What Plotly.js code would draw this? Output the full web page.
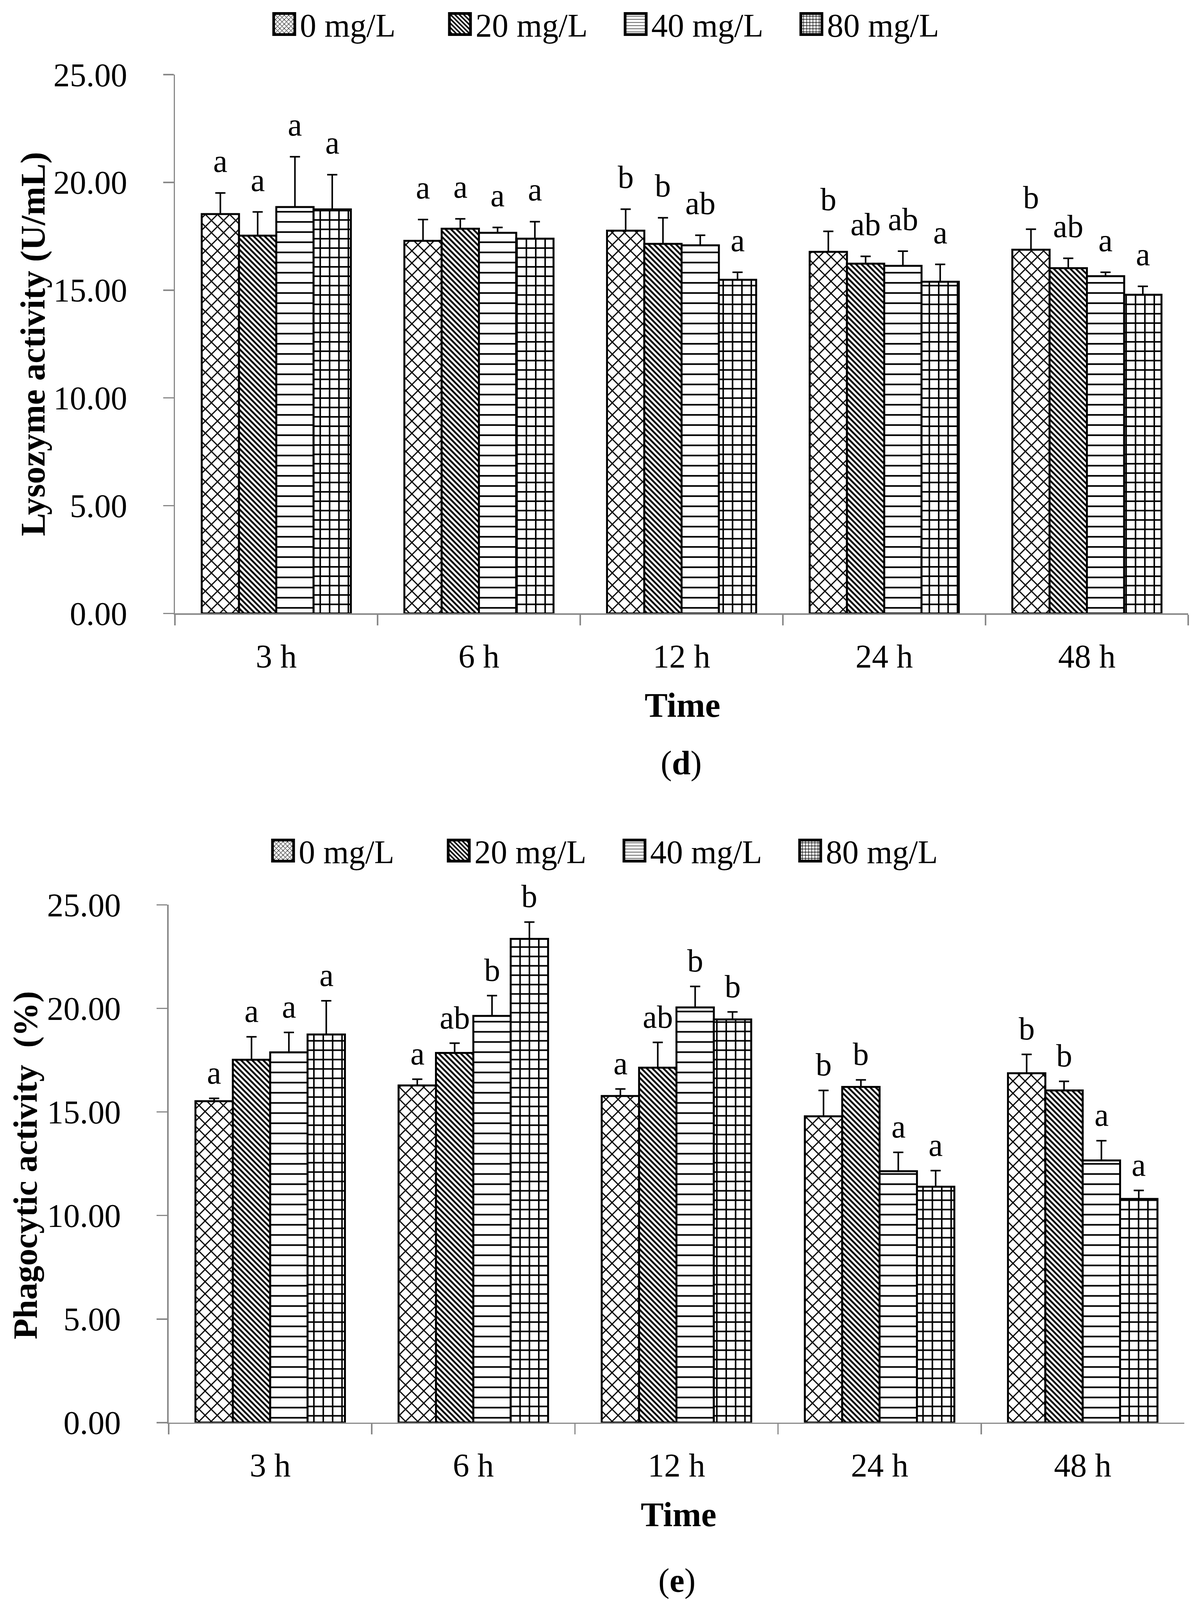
<!DOCTYPE html>
<html>
<head>
<meta charset="utf-8">
<script src="https://cdn.plot.ly/plotly-3.0.1.min.js"></script>
<style>
  html, body { margin: 0; padding: 0; background: #fff; overflow: hidden; }
  #chart { width: 3063px; }
</style>
</head>
<body>
<div id="chart"></div>
<script>
// categories and series
const times = ["3 h", "6 h", "12 h", "24 h", "48 h"];
const doses = ["0 mg/L", "20 mg/L", "40 mg/L", "80 mg/L"];

// (d) lysozyme activity, U/mL
const lys0 = [18.53, 17.29, 17.76, 16.78, 16.88];
const lys20 = [17.53, 17.85, 17.15, 16.23, 16.02];
const lys40 = [18.86, 17.66, 17.08, 16.13, 15.65];
const lys80 = [18.75, 17.39, 15.48, 15.39, 14.79];
const lysSd0 = [0.98, 0.99, 1.00, 0.95, 0.95];
const lysSd20 = [1.10, 0.46, 1.21, 0.34, 0.46];
const lysSd40 = [2.33, 0.25, 0.47, 0.68, 0.18];
const lysSd80 = [1.61, 0.79, 0.35, 0.81, 0.39];
const lysLet0 = ["a", "a", "b", "b", "b"];
const lysLet20 = ["a", "a", "b", "ab", "ab"];
const lysLet40 = ["a", "a", "ab", "ab", "a"];
const lysLet80 = ["a", "a", "a", "a", "a"];

// (e) phagocytic activity, %
const pha0 = [15.52, 16.28, 15.77, 14.79, 16.87];
const pha20 = [17.52, 17.85, 17.14, 16.21, 16.04];
const pha40 = [17.88, 19.64, 20.05, 12.14, 12.66];
const pha80 = [18.74, 23.36, 19.47, 11.39, 10.80];
const phaSd0 = [0.14, 0.30, 0.34, 1.25, 0.91];
const phaSd20 = [1.11, 0.47, 1.22, 0.34, 0.44];
const phaSd40 = [0.96, 0.98, 1.01, 0.91, 0.95];
const phaSd80 = [1.63, 0.81, 0.36, 0.78, 0.41];
const phaLet0 = ["a", "a", "a", "b", "b"];
const phaLet20 = ["a", "ab", "ab", "b", "b"];
const phaLet40 = ["a", "b", "b", "a", "a"];
const phaLet80 = ["a", "b", "b", "a", "a"];

const FONT = "Liberation Serif, Times New Roman, serif";
const AXC = "#898989";
const BARGAP = 0.264;
// keep the whole figure inside the visible window
const H = Math.min(4484, window.innerHeight > 0 ? window.innerHeight : 4484);
document.getElementById("chart").style.height = H + "px";

const patterns = [
  { shape: "x", size: 22, solidity: 0.25 },
  { shape: "\\", size: 10, solidity: 0.48 },
  { shape: "-", size: 26, solidity: 0.16 },
  { shape: "+", size: 24, solidity: 0.3 }
];

function makeTraces(means, sds, xa, ya, leg) {
  return means.map((m, j) => ({
    type: "bar",
    name: doses[j],
    x: times,
    y: m,
    xaxis: xa,
    yaxis: ya,
    legend: leg,
    marker: {
      color: "#fff",
      line: { color: "#000", width: 5 },
      pattern: Object.assign({ fgcolor: "#000", bgcolor: "#fff", fillmode: "replace" }, patterns[j])
    },
    error_y: {
      type: "data",
      symmetric: false,
      array: sds[j],
      arrayminus: sds[j].map(() => 0),
      color: "#000",
      thickness: 4,
      width: 13
    },
    hoverinfo: "none"
  }));
}

function letterNotes(means, sds, lets, xa, ya, shift) {
  const out = [];
  const bw = (1 - BARGAP) / means.length;
  means.forEach((m, j) => {
    m.forEach((v, i) => {
      out.push({
        xref: xa, yref: ya,
        x: i + (j - (means.length - 1) / 2) * bw,
        y: v + sds[j][i],
        text: lets[j][i],
        showarrow: false,
        yanchor: "bottom",
        yshift: shift,
        font: { family: FONT, size: 82, color: "#000" }
      });
    });
  });
  return out;
}

const traces = makeTraces([lys0, lys20, lys40, lys80], [lysSd0, lysSd20, lysSd40, lysSd80], "x", "y", "legend")
  .concat(makeTraces([pha0, pha20, pha40, pha80], [phaSd0, phaSd20, phaSd40, phaSd80], "x2", "y2", "legend2"));

function xAxis(domain, anchor) {
  return {
    domain: domain, anchor: anchor, type: "category",
    showline: true, linecolor: AXC, linewidth: 3.5,
    ticks: "outside", tickson: "boundaries", ticklen: 27, tickwidth: 3.5, tickcolor: AXC,
    ticklabelstandoff: 34,
    tickfont: { family: FONT, size: 84, color: "#000" },
    showgrid: false, zeroline: false, fixedrange: true
  };
}
function yAxis(domain, anchor) {
  return {
    domain: domain, anchor: anchor, range: [0, 25], dtick: 5, tickformat: ".2f",
    showline: true, linecolor: AXC, linewidth: 3.5,
    ticks: "outside", ticklen: 27, tickwidth: 3.5, tickcolor: AXC,
    ticklabelstandoff: 75,
    tickfont: { family: FONT, size: 84, color: "#000" },
    showgrid: false, zeroline: false, fixedrange: true
  };
}

const legendBase = {
  orientation: "h", xref: "paper", yref: "paper", xanchor: "left", yanchor: "middle",
  font: { family: FONT, size: 84, color: "#000" },
  itemwidth: 70, entrywidth: 365, entrywidthmode: "pixels", bgcolor: "rgba(0,0,0,0)"
};

const annotations = [
  { text: "<b>Lysozyme activity (U/mL)</b>", x: 0.0275, y: 0.7866, textangle: -90, font: { size: 89 } },
  { text: "<b>Time</b>", x: 0.5707, y: 0.5604, font: { size: 88 } },
  { text: "(<b>d</b>)", x: 0.5694, y: 0.5243, font: { size: 86 } },
  { text: "<b>Phagocytic activity  (%)</b>", x: 0.0212, y: 0.2723, textangle: -90, font: { size: 87 } },
  { text: "<b>Time</b>", x: 0.5674, y: 0.0535, font: { size: 88 } },
  { text: "(<b>e</b>)", x: 0.5661, y: 0.0123, font: { size: 86 } }
].map(a => Object.assign({ xref: "paper", yref: "paper", showarrow: false, xanchor: "center", yanchor: "middle" }, a,
  { font: Object.assign({ family: FONT, color: "#000" }, a.font) }))
  .concat(letterNotes([lys0, lys20, lys40, lys80], [lysSd0, lysSd20, lysSd40, lysSd80], [lysLet0, lysLet20, lysLet40, lysLet80], "x", "y", 34))
  .concat(letterNotes([pha0, pha20, pha40, pha80], [phaSd0, phaSd20, phaSd40, phaSd80], [phaLet0, phaLet20, phaLet40, phaLet80], "x2", "y2", 18));

const layout = {
  width: 3063, height: H,
  margin: { l: 0, r: 0, t: 0, b: 0 },
  paper_bgcolor: "#fff", plot_bgcolor: "#fff",
  barmode: "group", bargap: BARGAP, bargroupgap: 0,
  xaxis: xAxis([0.1463, 0.9935], "y"),
  yaxis: yAxis([0.6178, 0.9552], "x"),
  xaxis2: xAxis([0.1410, 0.9902], "y2"),
  yaxis2: yAxis([0.1111, 0.4353], "x2"),
  legend: Object.assign({ x: 0.2246, y: 0.9868 }, legendBase),
  legend2: Object.assign({ x: 0.2236, y: 0.4692 }, legendBase),
  annotations: annotations,
  showlegend: true
};

Plotly.newPlot("chart", traces, layout, { staticPlot: true }).then(() => {
  // enlarge legend swatches to match the reference's large boxes
  document.querySelectorAll(".legendpoints path").forEach(p => {
    p.setAttribute("d", "M27,27H-27V-27H27Z");
    p.style.strokeWidth = "7px";
  });
});
</script>
</body>
</html>
